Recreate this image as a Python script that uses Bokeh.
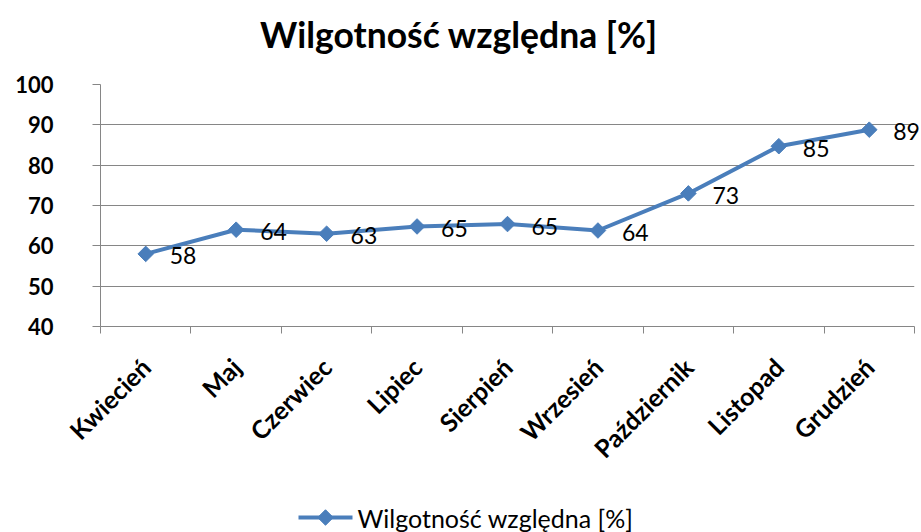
import math
from bokeh.plotting import figure
from bokeh.layouts import column
from bokeh.models import ColumnDataSource, FixedTicker, Range1d
from bokeh.core.properties import value
from bokeh.embed import file_html
from bokeh.resources import INLINE

months = ["Kwiecień", "Maj", "Czerwiec", "Lipiec", "Sierpień",
          "Wrzesień", "Październik", "Listopad", "Grudzień"]
humidity = [58, 64, 63, 64.8, 65.4, 63.8, 73, 84.7, 88.8]
y_ticks = [40, 50, 60, 70, 80, 90, 100]
title_text = "Wilgotność względna [%]"
series_name = "Wilgotność względna [%]"

FONT = "Lato"
BLUE = "#4a7ebb"
GRID = "#868686"
W = 921
FRAME_L, FRAME_R = 100, 914  # frames of stacked plots are aligned to these


def strip(height, yr):
    f = figure(width=W, height=height, output_backend="svg", toolbar_location=None,
               x_range=Range1d(FRAME_L, FRAME_R), y_range=Range1d(*yr), title=None,
               x_axis_location=None, y_axis_location=None,
               min_border_left=FRAME_L, min_border_right=W - FRAME_R,
               min_border_top=0, min_border_bottom=0,
               background_fill_color="white", border_fill_color="white")
    f.outline_line_color = None
    f.xgrid.grid_line_color = None
    f.ygrid.grid_line_color = None
    return f


# title strip
p0 = strip(70, (0, 1))
p0.text(x=[458.5], y=[0.52], text=[title_text], text_align="center",
        text_baseline="middle", text_font=value(FONT), text_font_size="35.5px",
        text_font_style="bold", text_color="black", level="overlay")

# main chart
xs = list(range(1, len(months) + 1))
src = ColumnDataSource(dict(x=xs, y=humidity,
                            lbl=[str(int(round(v))) for v in humidity]))

p = figure(width=W, height=406, output_backend="svg", toolbar_location=None,
           x_range=Range1d(0.5, len(months) + 0.5), y_range=Range1d(40, 100),
           title=None, min_border_left=FRAME_L, min_border_right=W - FRAME_R,
           min_border_top=14, min_border_bottom=146,
           background_fill_color="white", border_fill_color="white")
p.outline_line_color = None

p.xaxis.ticker = FixedTicker(ticks=xs, minor_ticks=[i + 0.5 for i in range(0, len(months) + 1)])
p.xaxis.major_label_overrides = {i: m for i, m in zip(xs, months)}
p.xaxis.major_label_orientation = math.pi / 4
p.xaxis.major_tick_line_color = None
p.xaxis.minor_tick_in = 0
p.xaxis.minor_tick_out = 7
p.xaxis.minor_tick_line_color = GRID
p.xaxis.axis_line_color = GRID
p.xaxis.major_label_text_font = FONT
p.xaxis.major_label_text_font_size = "25px"
p.xaxis.major_label_text_font_style = "bold"
p.xaxis.major_label_text_color = "black"
p.xaxis.major_label_standoff = 29
p.xgrid.grid_line_color = None

p.yaxis.ticker = FixedTicker(ticks=y_ticks)
p.yaxis.major_tick_in = 0
p.yaxis.major_tick_out = 8
p.yaxis.minor_tick_line_color = None
p.yaxis.major_tick_line_color = GRID
p.yaxis.axis_line_color = GRID
p.yaxis.major_label_text_font = FONT
p.yaxis.major_label_text_font_size = "22px"
p.yaxis.major_label_text_font_style = "bold"
p.yaxis.major_label_text_color = "black"
p.yaxis.major_label_standoff = 39
p.ygrid.grid_line_color = GRID
p.ygrid.grid_line_width = 1

p.line("x", "y", source=src, line_color=BLUE, line_width=4)
p.scatter("x", "y", source=src, marker="square", angle=math.pi / 4,
          size=11, fill_color=BLUE, line_color=BLUE)
p.text("x", "y", text="lbl", source=src, x_offset=24, y_offset=2,
       text_align="left", text_baseline="middle", text_font=value(FONT),
       text_font_size="23px", text_color="black", level="overlay")

# legend strip (x mapped to page pixels through aligned frame)
p2 = strip(56, (0, 56))
p2.line(x=[298, 352], y=[15, 15], line_color=BLUE, line_width=4)
p2.scatter(x=[325], y=[15], marker="square", angle=math.pi / 4, size=11,
           fill_color=BLUE, line_color=BLUE)
p2.text(x=[357], y=[15], text=[series_name], text_align="left",
        text_baseline="middle", text_font=value(FONT), text_font_size="25px",
        text_color="black", level="overlay")

layout = column(p0, p, p2, spacing=0)
open("out.html", "w").write(file_html(layout, INLINE))
